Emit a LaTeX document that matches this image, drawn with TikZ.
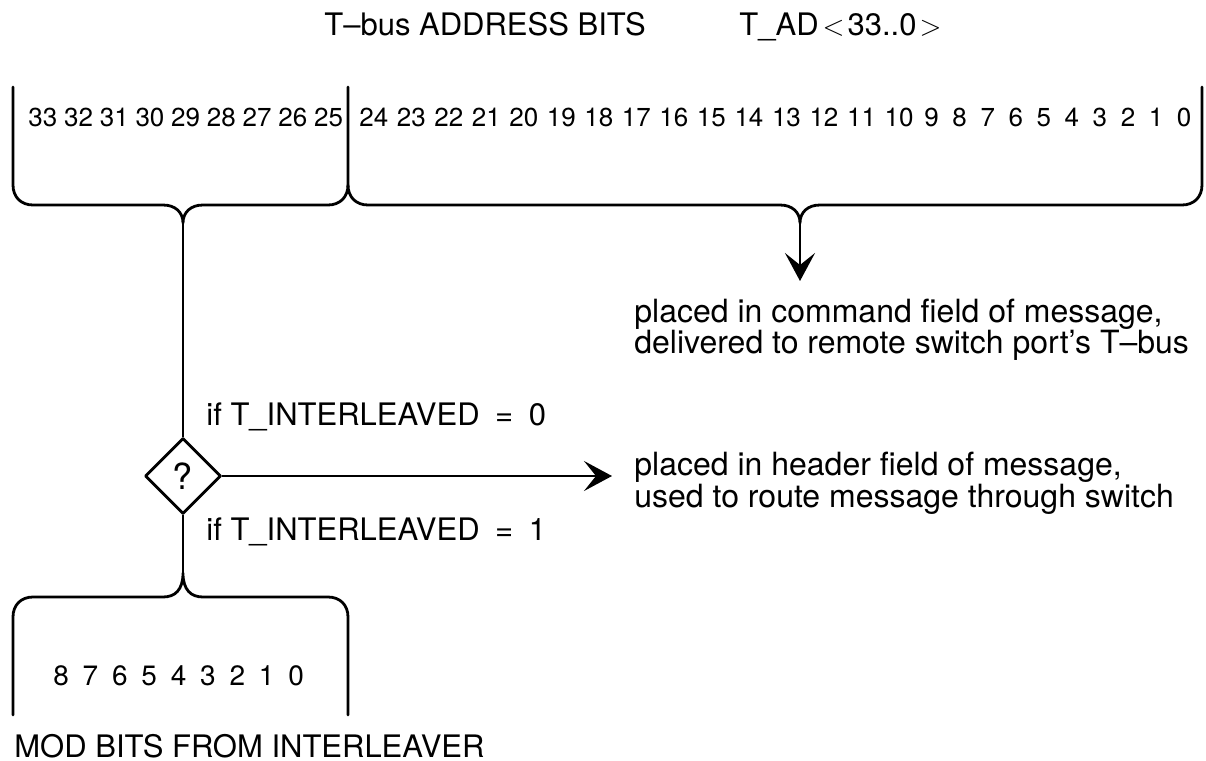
\documentclass[tikz,border=0pt]{standalone}
\usepackage{fontspec}
\setmainfont{TeX Gyre Heros}
\usetikzlibrary{shapes.geometric,arrows.meta}
\begin{document}
\begin{tikzpicture}[x=0.5pt,y=-0.5pt,
  line width=1.4pt, line join=round, line cap=round,
  lbl/.style={inner sep=0pt, anchor=base west, font=\fontsize{15.5}{17}\selectfont},
  rlbl/.style={inner sep=0pt, anchor=base west, font=\fontsize{16}{18}\selectfont},
  bitsL/.style={inner sep=0pt, anchor=base west, font={\fontsize{13}{15}\selectfont\spaceskip=3.4pt\relax}},
  bitsR/.style={inner sep=0pt, anchor=base west, font={\fontsize{13}{15}\selectfont\spaceskip=4.3pt\relax}},
  bitsS/.style={inner sep=0pt, anchor=base west, font={\fontsize{13}{15}\selectfont\spaceskip=6.8pt\relax}},
  bitsB/.style={inner sep=0pt, anchor=base west, font={\fontsize{14}{16}\selectfont\spaceskip=6.9pt\relax}},
  decide/.style={draw, diamond, aspect=1, inner sep=0pt, minimum size=38pt, font=\fontsize{18}{20}\selectfont},
  arr/.style={-{Stealth[length=14pt,width=15pt,inset=6pt]}},
  brace/.style={draw}
]
\useasboundingbox (0,0) rectangle (1206,761);

% title
\node[lbl] (title) at (323,35) {T--bus ADDRESS BITS};
\node[lbl] (tad) at (738,35) {T\_AD\kern2pt${<}$\kern1.5pt33..0\kern1.5pt${>}$};

% bit numbers
\node[bitsL] (hibits) at (27,126) {33 32 31 30 29 28 27 26 25};
\node[bitsR] (lobits) at (358,126) {24 23 22 21 20 19 18 17 16 15 14 13 12 11 10};
\node[bitsS] (lobitsS) at (923,126) {9 8 7 6 5 4 3 2 1 0};

% top braces
\coordinate (tipA) at (183,223);
\coordinate (tipB) at (800,223);
\draw[brace] (13,87) -- (13,185) .. controls (13,197) and (21,205) .. (33,205)
  -- (163,205) .. controls (175,205) and (183,212) .. (tipA)
  .. controls (183,212) and (191,205) .. (203,205)
  -- (328,205) .. controls (340,205) and (348,197) .. (348,185) -- (348,87);
\draw[brace] (348,185) .. controls (348,197) and (356,205) .. (368,205)
  -- (780,205) .. controls (792,205) and (800,212) .. (tipB)
  .. controls (800,212) and (808,205) .. (820,205)
  -- (1182,205) .. controls (1194,205) and (1202,197) .. (1202,185) -- (1202,87);

% arrow from low bits
\coordinate (cmdEnd) at (800,281);
\draw[arr] (tipB) -- (cmdEnd);
\node[rlbl] (cmd1) at (633,322) {placed in command field of message,};
\node[rlbl] (cmd2) at (633,353) {delivered to remote switch port’s T--bus};

% decision
\node[decide] (q) at (183,476) {?};
\draw (tipA) -- (q.north);
\coordinate (hdrEnd) at (612,476);
\draw[arr] (q.east) -- (hdrEnd);
\node[lbl] (if0) at (205,425) {if T\_INTERLEAVED\enspace=\enspace0};
\node[lbl] (if1) at (205,540) {if T\_INTERLEAVED\enspace=\enspace1};
\node[rlbl] (hdr1) at (633,475) {placed in header field of message,};
\node[rlbl] (hdr2) at (633,507) {used to route message through switch};

% bottom brace
\coordinate (tipC) at (183,573);
\draw (q.south) -- (tipC);
\draw[brace] (13,715) -- (13,617) .. controls (13,605) and (21,597) .. (33,597)
  -- (163,597) .. controls (175,597) and (183,590) .. (tipC)
  .. controls (183,590) and (191,597) .. (203,597)
  -- (328,597) .. controls (340,597) and (348,605) .. (348,617) -- (348,715);
\node[bitsB] (modbits) at (52,685) {8 7 6 5 4 3 2 1 0};
\node[lbl] (modlbl) at (13,757) {MOD BITS FROM INTERLEAVER};
\end{tikzpicture}
\end{document}
